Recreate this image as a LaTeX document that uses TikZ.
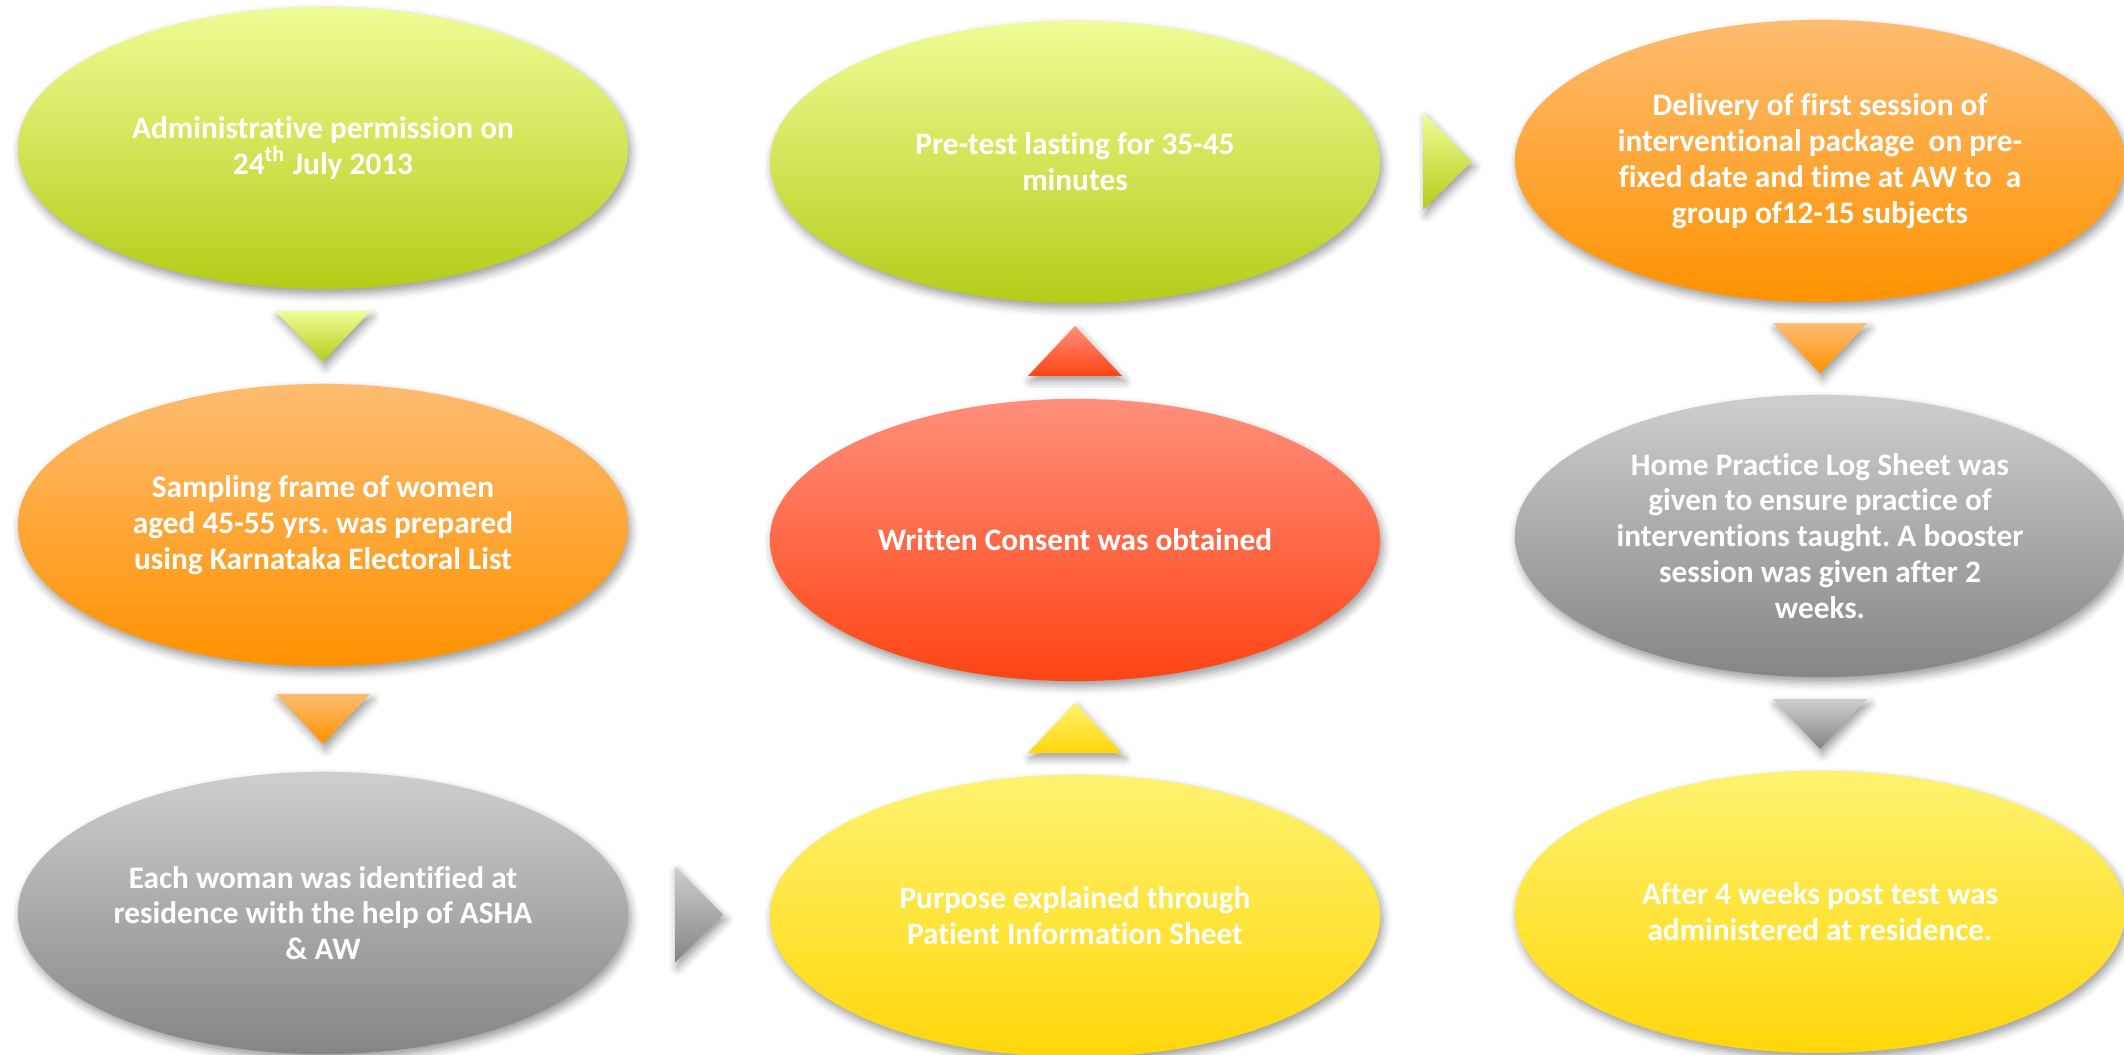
\documentclass[tikz,border=0pt]{standalone}
\usepackage{fontspec}
\setmainfont{Carlito}[Ligatures=NoCommon]
\usepackage{tikz}
\usetikzlibrary{calc, shapes.geometric, shadows.blur, positioning}
\frenchspacing

% gradient pairs (top / bottom)
\definecolor{limeTop}{RGB}{240,252,150}
\definecolor{limeBot}{RGB}{181,204,24}
\definecolor{orgTop}{RGB}{253,188,113}
\definecolor{orgBot}{RGB}{255,146,0}
\definecolor{greyTop}{RGB}{206,206,206}
\definecolor{greyBot}{RGB}{133,133,133}
\definecolor{yelTop}{RGB}{254,243,112}
\definecolor{yelBot}{RGB}{255,214,10}
\definecolor{redTop}{RGB}{255,143,123}
\definecolor{redBot}{RGB}{253,68,20}

\tikzset{
  softshadow/.style={blur shadow={shadow xshift=0.7pt, shadow yshift=-1.5pt,
      shadow blur radius=2.4pt, shadow opacity=40}},
  stage/.style={ellipse, minimum width=6.1cm, minimum height=2.82cm,
      inner sep=0pt, align=center, text=white, softshadow,
      font=\bfseries\fontsize{8.9}{10.2}\selectfont},
  tri/.style={softshadow},
  lime/.style={top color=limeTop, bottom color=limeBot},
  org/.style={top color=orgTop, bottom color=orgBot},
  grey/.style={top color=greyTop, bottom color=greyBot},
  yel/.style={top color=yelTop, bottom color=yelBot},
  redd/.style={top color=redTop, bottom color=redBot}
}

\begin{document}
\begin{tikzpicture}[x=0.01cm, y=-0.01cm]
    \useasboundingbox (0,0) rectangle (2124,1055);

    % Cột 1: xin phép, chọn mẫu, xác định đối tượng
    \node[stage, lime] (admin) at (323,148)
        {Administrative permission on\\24\textsuperscript{th} July 2013};
    \node[stage, org] (sampling) at (323,525)
        {Sampling frame of women\\aged 45-55 yrs. was prepared\\using Karnataka Electoral List};
    \node[stage, grey] (woman) at (323,913)
        {Each woman was identified at\\residence with the help of ASHA\\\& AW};

    % Cột 2: đi từ dưới lên
    \node[stage, yel] (purpose) at (1075,916)
        {Purpose explained through\\Patient Information Sheet};
    \node[stage, redd] (consent) at (1075,540) {Written Consent was obtained};
    \node[stage, lime] (pretest) at (1075,162)
        {Pre-test lasting for 35-45\\minutes};

    % Cột 3: can thiệp và hậu kiểm
    \node[stage, org] (delivery) at (1820,161)
        {Delivery of first session of\\interventional package\ \ on pre-\\fixed date and time at AW to\ \ a\\group of12-15 subjects};
    \node[stage, grey] (homelog) at (1820,536)
        {Home Practice Log Sheet was\\given to ensure practice of\\interventions taught. A booster\\session was given after 2\\weeks.};
    \node[stage, yel] (posttest) at (1820,912)
        {After 4 weeks post test was\\administered at residence.};

    % Mũi tam giác giữa các bước
    \path[tri, lime] ($(admin.south)!.5!(sampling.north)$)
        ++(-47,-25) -- ++(94,0) -- ++(-47,50) -- cycle;
    \path[tri, org] ($(sampling.south)!.5!(woman.north)$)
        ++(-47,-25) -- ++(94,0) -- ++(-47,50) -- cycle;
    \path[tri, grey] ($(woman.east)!.5!(purpose.west)$)
        ++(-24,-48) -- ++(0,96) -- ++(48,-48) -- cycle;
    \path[tri, yel] ($(purpose.north)!.5!(consent.south)$)
        ++(-47,25) -- ++(94,0) -- ++(-47,-50) -- cycle;
    \path[tri, redd] ($(consent.north)!.5!(pretest.south)$)
        ++(-47,25) -- ++(94,0) -- ++(-47,-50) -- cycle;
    \path[tri, lime] ($(pretest.east)!.5!(delivery.west)$)
        ++(-24,-48) -- ++(0,96) -- ++(48,-48) -- cycle;
    \path[tri, org] ($(delivery.south)!.5!(homelog.north)$)
        ++(-47,-25) -- ++(94,0) -- ++(-47,50) -- cycle;
    \path[tri, grey] ($(homelog.south)!.5!(posttest.north)$)
        ++(-47,-25) -- ++(94,0) -- ++(-47,50) -- cycle;
\end{tikzpicture}
\end{document}
